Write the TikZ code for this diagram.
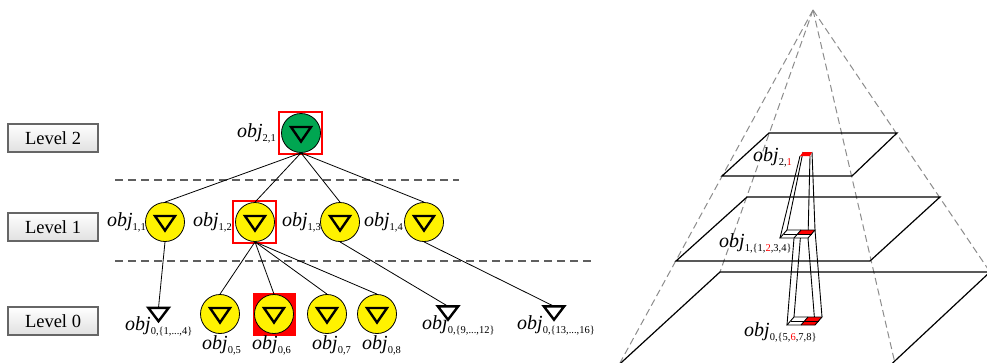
\documentclass[tikz,border=0pt]{standalone}
\usepackage{fontspec}
\setmainfont{Liberation Serif}
\usetikzlibrary{calc}
\definecolor{objgreen}{RGB}{0,166,81}
\definecolor{dashgray}{RGB}{95,95,95}
\definecolor{pyrgray}{RGB}{140,140,140}
\newcommand{\objl}[1]{{\fontsize{20}{20}\selectfont\itshape obj}\raisebox{-4pt}{\fontsize{10.5}{10.5}\selectfont #1}}
\tikzset{
  ycirc/.style={circle, draw=black, line width=0.8pt, fill=yellow, minimum size=39pt, inner sep=0pt},
  gcirc/.style={ycirc, fill=objgreen},
  tri/.style={line width=2.4pt, line join=miter},
  opentri/.style={inner sep=0pt, minimum width=20pt, minimum height=13pt},
  lvlbox/.style={draw=black!60, line width=1.2pt, top color=white, bottom color=black!12,
    minimum width=90pt, minimum height=28pt, inner sep=0pt, font=\fontsize{18.5}{20}\selectfont},
  conn/.style={line width=0.8pt},
  hdash/.style={draw=dashgray, line width=1.6pt, dash pattern=on 8pt off 5pt},
  pdash/.style={draw=pyrgray, line width=1pt, dash pattern=on 7pt off 4pt},
  plane/.style={line width=1.2pt},
  col/.style={line width=0.9pt},
  redsq/.style={draw=red, line width=2pt, minimum width=43pt, minimum height=42pt, inner sep=0pt},
  redfill/.style={fill=red, draw=none, minimum width=43pt, minimum height=43pt, inner sep=0pt},
  lab/.style={inner sep=0pt}
}
\begin{document}
\begin{tikzpicture}[x=1pt,y=-1pt]
\useasboundingbox (0,0) rectangle (987,362);

% ---------------- Level boxes ----------------
\node[lvlbox] (lv2) at (53,138) {Level 2};
\node[lvlbox] (lv1) at (53,227) {Level 1};
\node[lvlbox] (lv0) at (53,321) {Level 0};

% ---------------- dashed separators ----------------
\coordinate (d1a) at (115,180); \coordinate (d1b) at (459,180);
\coordinate (d2a) at (115,261); \coordinate (d2b) at (595,261);
\draw[hdash] (d1a) -- (d1b);
\draw[hdash] (d2a) -- (d2b);

% ---------------- red squares (behind) ----------------
\node[redsq] (rs21) at (300.5,133) {};
\node[redsq] (rs12) at (254.5,222) {};
\node[redfill] (rs06) at (274.5,314.5) {};

% ---------------- nodes ----------------
\node[gcirc] (g) at (301,133) {};
\node[ycirc] (l11) at (165,222) {};
\node[ycirc] (l12) at (255,222) {};
\node[ycirc] (l13) at (340,222) {};
\node[ycirc] (l14) at (424,222) {};
\node[ycirc] (c05) at (220,314) {};
\node[ycirc] (c06) at (274,314) {};
\node[ycirc] (c07) at (327,314) {};
\node[ycirc] (c08) at (377,314) {};
\node[opentri] (t1) at (158.5,314.5) {};
\node[opentri] (t9) at (448,313) {};
\node[opentri] (t13) at (554,313) {};

\foreach \n in {g,l11,l12,l13,l14,c05,c06,c07,c08}
  \draw[tri] ([shift={(-10pt,6pt)}]\n.center) -- ([shift={(10pt,6pt)}]\n.center)
     -- ([shift={(0pt,-8.5pt)}]\n.center) -- cycle;
\foreach \n in {t1,t9,t13}
  \draw[tri] (\n.north west) -- (\n.north east) -- (\n.south) -- cycle;

% ---------------- connectors ----------------
\foreach \n in {l11,l12,l13,l14} \draw[conn] (g.south) -- (\n.north);
\foreach \n in {c05,c06,c07,c08} \draw[conn] (l12.south) -- (\n.north);
\draw[conn] (l11.south) -- (t1.north);
\draw[conn] (l13.south) -- (t9.north);
\draw[conn] (l14.south) -- (t13.north);

% ---------------- tree labels ----------------
\node[lab, anchor=base east] (o21) at (276,137) {\objl{2,1}};
\node[lab, anchor=base east] (o11) at (146,226) {\objl{1,1}};
\node[lab, anchor=base east] (o12) at (232,226) {\objl{1,2}};
\node[lab, anchor=base east] (o13) at (321,226) {\objl{1,3}};
\node[lab, anchor=base east] (o14) at (403,226) {\objl{1,4}};
\node[lab, anchor=base west] (o01) at (125,330) {\objl{0,\{1,...,4\}}};
\node[lab, anchor=base west] (o05) at (202,349) {\objl{0,5}};
\node[lab, anchor=base west] (o06) at (252,349) {\objl{0,6}};
\node[lab, anchor=base west] (o07) at (312,349) {\objl{0,7}};
\node[lab, anchor=base west] (o08) at (362,349) {\objl{0,8}};
\node[lab, anchor=base west] (o09) at (422,329) {\objl{0,\{9,...,12\}}};
\node[lab, anchor=base west] (o013) at (517,329) {\objl{0,\{13,...,16\}}};

% ---------------- pyramid ----------------
\begin{scope}
\clip (0,0) rectangle (987,362);
\coordinate (A) at (813,10);
% top plane
\coordinate (TBL) at (769,133); \coordinate (TBR) at (897,133);
\coordinate (TFR) at (852,176); \coordinate (TFL) at (722,176);
% middle plane
\coordinate (MBL) at (747,197); \coordinate (MBR) at (940,197);
\coordinate (MFR) at (870,261); \coordinate (MFL) at (676,261);
% bottom plane
\coordinate (BBL) at (720,272); \coordinate (BBR) at (990,272);
\coordinate (BFR) at (883,372); \coordinate (BFL) at (611,372);
% dashed edges
\coordinate (EFL) at (615,372); \coordinate (EFR) at (897,372);
\draw[pdash] (A) -- (EFL);
\draw[pdash] (A) -- (BBL);
\draw[pdash] (A) -- (EFR);
\draw[pdash] (A) -- (BBR);
% planes
\draw[plane] (TBL) -- (TBR) -- (TFR) -- (TFL) -- cycle;
\draw[plane] (MBL) -- (MBR) -- (MFR) -- (MFL) -- cycle;
\draw[plane] (BFL) -- (BBL) -- (BBR) -- (BFR);

% column: top patch
\coordinate (PBL) at (803,152); \coordinate (PBR) at (812,152);
\coordinate (PFR) at (810,156); \coordinate (PFL) at (800,156);
% middle grid
\coordinate (QFL) at (780,238); \coordinate (QFR) at (808,238);
\coordinate (QBR) at (815,230); \coordinate (QBL) at (787,230);
\coordinate (QFM) at (794,238); \coordinate (QBM) at (801,230);
\coordinate (QLM) at (783.5,234); \coordinate (QRM) at (811.5,234);
\coordinate (QC) at (797.5,234);
% bottom grid
\coordinate (RFL) at (787,325); \coordinate (RFR) at (815,325);
\coordinate (RBR) at (822,317); \coordinate (RBL) at (794,317);
\coordinate (RFM) at (801,325); \coordinate (RBM) at (808,317);
\coordinate (RLM) at (790.5,321); \coordinate (RRM) at (818.5,321);

\draw[col] (PFL) -- (QFL);
\draw[col] (PBL) -- (QBL);
\draw[col] (PFR) -- (QFR);
\draw[col] (PBR) -- (QBR);
\draw[col] (QFM) -- (RFL);
\draw[col] (QBM) -- (RBL);
\draw[col] (QBR) -- (RBR);
\draw[col] (QFR) -- (RFR);

\fill[red] (PBL) -- (PBR) -- (PFR) -- (PFL) -- cycle;
\fill[white] (QBL) -- (QBR) -- (QFR) -- (QFL) -- cycle;
\fill[red] (QBM) -- (QBR) -- (QRM) -- (QC) -- cycle;
\draw[col] (QBL) -- (QBR) -- (QFR) -- (QFL) -- cycle;
\draw[col] (QFM) -- (QBM);
\draw[col] (QLM) -- (QRM);
\fill[white] (RBL) -- (RBR) -- (RFR) -- (RFL) -- cycle;
\fill[red] (RBM) -- (RBR) -- (RFR) -- (RFM) -- cycle;
\draw[col] (RBL) -- (RBR) -- (RFR) -- (RFL) -- cycle;
\draw[col] (RFM) -- (RBM);
\draw[col] (RLM) -- (RRM);
\end{scope}

% pyramid labels
\node[lab, anchor=base west] (p21) at (753,161) {\objl{2,\textcolor{red}{1}}};
\node[lab, anchor=base west] (p1) at (719,247) {\objl{1,\{1,\textcolor{red}{2},3,4\}}};
\node[lab, anchor=base west] (p0) at (744,336) {\objl{0,\{5,\textcolor{red}{6},7,8\}}};
\end{tikzpicture}
\end{document}
